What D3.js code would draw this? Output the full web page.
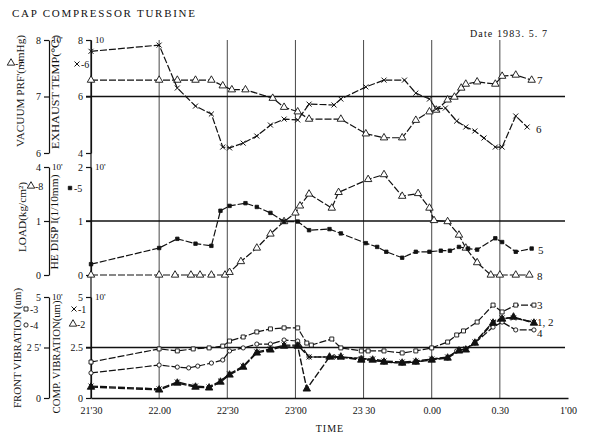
<!DOCTYPE html>
<html>
<head>
<meta charset="utf-8">
<script src="https://cdn.jsdelivr.net/npm/d3@7"></script>
<style>
  body { margin: 0; background: #fff; }
  text { font-family: "Liberation Serif", "DejaVu Serif", serif; fill: #111; }
</style>
</head>
<body>
<svg id="chart" width="592" height="436"></svg>
<script>
// time in minutes after 21:30
var timeTicks = [0, 30, 60, 90, 120, 150, 180, 210];
var timeLabels = ["21'30", "22.00", "22'30", "23'00", "23 30", "0.00", "0.30", "1'00"];
var gridTimes = [30, 60, 90, 120, 150, 180];

var vacuumTicks = [6, 7, 8], vacuumLabels = ["6", "7", "8"];
var exhaustTicks = [4, 6, 8], exhaustLabels = ["4", "6", "8"];
var loadTicks = [0, 1, 2], loadLabels = ["0", "1", "4"];
var dispTicks = [0, 1, 2], dispLabels = ["0", "1", "2"];
var frontTicks = [0, 2.5, 5], frontLabels = ["0", "2 5'", "5"];
var compTicks = [0, 2.5, 5], compLabels = ["0", "2.5", "5"];

// top panel: 7 vacuum (mmHg), 6 exhaust temp (x10 C)
var vacuum7 = [[0,7.29],[30,7.29],[38,7.29],[46,7.29],[53,7.29],[58,7.19],[62,7.12],[68,7.12],[80,6.97],[85,6.81],[91,6.73],[96,6.60],[110,6.60],[121,6.34],[129,6.27],[137,6.27],[143,6.58],[149,6.73],[152,6.76],[157,6.94],[160,6.99],[163,7.15],[165,7.22],[170,7.26],[178,7.22],[181,7.36],[187,7.38],[194,7.29]];
var exhaust6 = [[0,7.6],[30,7.82],[38,6.30],[46,5.66],[53,5.38],[58,4.21],[61,4.18],[67,4.35],[73,4.60],[79,4.99],[85,5.20],[91,5.17],[96,5.73],[107,5.70],[110,5.91],[121,6.34],[129,6.58],[138,6.58],[143,6.12],[149,5.91],[152,5.56],[156,5.59],[161,5.13],[165,4.92],[169,4.78],[173,4.53],[178,4.21],[181,4.21],[187,5.31],[192,4.92]];

// middle panel: 8 load, 5 HE displacement
var load8 = [[0,0],[30,0],[37,0],[44,0],[48,0],[53,0],[59,0],[61,0.05],[66,0.25],[73,0.50],[79,0.76],[85,0.99],[90,1.15],[92,1.28],[96,1.50],[106,1.24],[109,1.53],[122,1.77],[129,1.86],[137,1.46],[144,1.51],[149,1.24],[151,1.01],[157,0.99],[162,0.74],[165,0.50],[170,0.23],[176,0],[180,0],[187,0],[193,0]];
var disp5 = [[0,0.20],[30,0.50],[38,0.67],[46,0.58],[53,0.54],[57,1.19],[61,1.28],[68,1.33],[73,1.26],[79,1.15],[85,0.99],[91,0.99],[96,0.83],[105,0.85],[110,0.77],[121,0.59],[126,0.52],[130,0.43],[137,0.32],[143,0.43],[149,0.43],[154,0.45],[158,0.45],[162,0.52],[166,0.49],[170,0.47],[178,0.68],[181,0.61],[187,0.43],[194,0.49]];

// bottom panel: 3, 4 front vibration; 1, 2 comp vibration (um)
var front3 = [[0,1.78],[30,2.43],[38,2.33],[45,2.43],[52,2.48],[58,2.57],[61,2.82],[67,3.02],[73,3.27],[79,3.42],[85,3.47],[91,3.47],[95,2.72],[97,2.62],[106,2.92],[110,2.48],[119,2.33],[122,2.33],[129,2.33],[137,2.23],[143,2.33],[150,2.48],[157,2.77],[161,3.12],[164,3.32],[170,3.76],[177,4.60],[181,4.26],[187,4.60],[195,4.60]];
var front4 = [[0,1.24],[30,1.63],[38,1.53],[43,1.49],[47,1.58],[53,1.73],[58,1.88],[61,2.33],[67,2.48],[73,2.67],[79,2.67],[85,2.87],[91,2.82],[96,2.03],[107,2.03],[119,1.98],[129,1.78],[137,1.73],[143,1.78],[150,1.93],[157,1.98],[161,2.33],[165,2.43],[169,2.72],[177,3.51],[181,3.76],[187,3.37],[195,3.37]];
var comp1 = [[0,0.59],[30,0.45],[38,0.79],[46,0.59],[52,0.54],[57,0.84],[61,1.19],[67,1.58],[73,2.28],[79,2.43],[85,2.62],[91,2.62],[96,2.03],[106,2.03],[110,2.03],[119,1.93],[124,1.93],[129,1.83],[137,1.78],[143,1.83],[150,1.93],[157,2.03],[162,2.38],[165,2.43],[169,2.77],[177,3.76],[181,3.96],[186,3.96],[195,3.76]];
var comp2 = [[0,0.54],[30,0.40],[38,0.74],[46,0.54],[52,0.50],[57,0.79],[61,1.14],[67,1.53],[73,2.23],[79,2.38],[85,2.57],[91,2.57],[95,0.45],[105,2.03],[110,2.03],[119,1.88],[124,1.88],[129,1.78],[137,1.73],[143,1.78],[150,1.88],[157,1.98],[162,2.33],[165,2.38],[169,2.72],[177,3.71],[181,3.91],[186,4.01],[195,3.71]];

var svg = d3.select("#chart");

var x = d3.scaleLinear().domain([0, 210]).range([91, 568]);
var yVac = d3.scaleLinear().domain([6, 8]).range([153, 40]);
var yExh = d3.scaleLinear().domain([4, 8]).range([153, 40]);
var yLoad = d3.scaleLinear().domain([0, 2]).range([275, 167]);
var yDisp = d3.scaleLinear().domain([0, 2]).range([275, 167]);
var yFront = d3.scaleLinear().domain([0, 5]).range([398, 297]);
var yComp = d3.scaleLinear().domain([0, 5]).range([398, 297]);

var timesSym = d3.symbolTimes || d3.symbolCross;

// title + date
svg.append("text").attr("x", 12).attr("y", 17).attr("font-size", 11)
  .attr("textLength", 183).text("CAP  COMPRESSOR TURBINE");
svg.append("text").attr("x", 470).attr("y", 37).attr("font-size", 10)
  .attr("textLength", 77).text("Date 1983. 5. 7");

// vertical grid lines
svg.selectAll(".vgrid").data(gridTimes).enter().append("line")
  .attr("x1", function(d) { return x(d); }).attr("x2", function(d) { return x(d); })
  .attr("y1", 40).attr("y2", 398)
  .attr("stroke", "#333").attr("stroke-width", 0.9);
// 21:30 line / inner axis
svg.append("line").attr("x1", 91).attr("x2", 91).attr("y1", 40).attr("y2", 398)
  .attr("stroke", "#111").attr("stroke-width", 1.2);

// mid-panel horizontal lines
[yVac(7), yLoad(1), yFront(2.5)].forEach(function(yy) {
  svg.append("line").attr("x1", 86).attr("x2", 565).attr("y1", yy).attr("y2", yy)
    .attr("stroke", "#111").attr("stroke-width", 1.3);
});

function drawAxis(scale, ticks, labels, xpos) {
  var g = svg.append("g").attr("transform", "translate(" + xpos + ",0)")
    .call(d3.axisLeft(scale).tickValues(ticks)
      .tickFormat(function(d, i) { return labels[i]; })
      .tickSize(5).tickSizeOuter(0).tickPadding(3));
  g.selectAll("path, line").attr("stroke", "#111").attr("stroke-width", 1.2);
  g.selectAll("text").attr("font-size", 10).attr("font-family", "Liberation Serif, serif").attr("fill", "#111");
  return g;
}
drawAxis(yVac, vacuumTicks, vacuumLabels, 49);
drawAxis(yExh, exhaustTicks, exhaustLabels, 91);
drawAxis(yLoad, loadTicks, loadLabels, 49);
drawAxis(yDisp, dispTicks, dispLabels, 91);
drawAxis(yFront, frontTicks, frontLabels, 49);
drawAxis(yComp, compTicks, compLabels, 91);

// exponent marks
[[52, 43, "10'"], [95, 43, "10"], [52, 170, "10'"], [95, 170, "10'"], [52, 300, "10'"], [95, 300, "10'"]]
  .forEach(function(p) {
    svg.append("text").attr("x", p[0]).attr("y", p[1]).attr("font-size", 9).text(p[2]);
  });

// rotated axis titles
function vLabel(cx, cy, len, str) {
  svg.append("text").attr("transform", "translate(" + cx + "," + cy + ") rotate(-90)")
    .attr("text-anchor", "middle").attr("font-size", 10)
    .attr("textLength", len).attr("lengthAdjust", "spacingAndGlyphs").text(str);
}
vLabel(24, 91, 112, "VACUUM PRF'(mmHg)");
vLabel(59, 92, 114, "EXHAUST TEMP(\u2103)");
vLabel(26, 217, 70, "LOAD(kg/cm\u00b2)");
vLabel(58, 222, 95, "HE  DISP I(1/10mm)");
vLabel(21, 348, 120, "FRONT  VIBRATION (um)");
vLabel(60, 357, 113, "COMP. VIBRATION(um)");

// bottom time axis
var xg = svg.append("g").attr("transform", "translate(0,398)")
  .call(d3.axisBottom(x).tickValues(timeTicks)
    .tickFormat(function(d, i) { return timeLabels[i]; })
    .tickSize(0).tickPadding(9));
xg.select(".domain").attr("stroke", "#111").attr("stroke-width", 1.4);
xg.selectAll("text").attr("font-size", 10).attr("font-family", "Liberation Serif, serif").attr("fill", "#111");
svg.append("text").attr("x", 330).attr("y", 432).attr("text-anchor", "middle")
  .attr("font-size", 10).attr("letter-spacing", 1).text("TIME");

function markerAttrs(sel, kind) {
  var types = {
    triOpen: [d3.symbolTriangle, 24, "#fff", 0.9],
    triFill: [d3.symbolTriangle, 24, "#111", 0.9],
    times: [timesSym, 18, "none", 1.0],
    sqFill: [d3.symbolSquare, 12, "#111", 0.8],
    sqOpen: [d3.symbolSquare, 16, "#fff", 0.9],
    circ: [d3.symbolCircle, 14, "#fff", 0.9]
  };
  var t = types[kind];
  sel.attr("d", d3.symbol().type(t[0]).size(t[1]))
    .attr("fill", t[2]).attr("stroke", "#111").attr("stroke-width", t[3]);
}

function drawSeries(data, yScale, kind, width) {
  var line = d3.line().x(function(d) { return x(d[0]); }).y(function(d) { return yScale(d[1]); });
  svg.append("path").datum(data).attr("d", line)
    .attr("fill", "none").attr("stroke", "#111").attr("stroke-width", width || 1.2)
    .attr("stroke-dasharray", "7,2");
  var m = svg.append("g").selectAll("path").data(data).enter().append("path")
    .attr("transform", function(d) { return "translate(" + x(d[0]) + "," + yScale(d[1]) + ")"; });
  markerAttrs(m, kind);
}

drawSeries(vacuum7, yVac, "triOpen");
drawSeries(exhaust6, yExh, "times");
drawSeries(load8, yLoad, "triOpen");
drawSeries(disp5, yDisp, "sqFill");
drawSeries(front3, yFront, "sqOpen");
drawSeries(front4, yFront, "circ");
drawSeries(comp1, yComp, "times", 1.4);
drawSeries(comp2, yComp, "triFill", 1.4);

// legend keys on the left
function legendKey(sx, sy, kind, str) {
  var p = svg.append("path").attr("transform", "translate(" + sx + "," + sy + ")");
  markerAttrs(p, kind);
  svg.append("text").attr("x", sx + 4).attr("y", sy + 4).attr("font-size", 10).text(str);
}
legendKey(11, 63, "triOpen", "-7");
legendKey(77, 64, "times", "-6");
legendKey(31, 186, "triOpen", "-8");
legendKey(70, 188, "sqFill", "-5");
legendKey(26, 309, "sqOpen", "-3");
legendKey(26, 325, "circ", "-4");
legendKey(74, 309, "times", "-1");
legendKey(73, 324, "triOpen", "-2");

// series numbers at the right end
[[537, 84, "7"], [536, 133, "6"], [538, 254, "5"], [537, 280, "8"], [537, 309, "3"], [537, 326, "1, 2"], [537, 337, "4"]]
  .forEach(function(p) {
    svg.append("text").attr("x", p[0]).attr("y", p[1]).attr("font-size", 11).text(p[2]);
  });
</script>
</body>
</html>
